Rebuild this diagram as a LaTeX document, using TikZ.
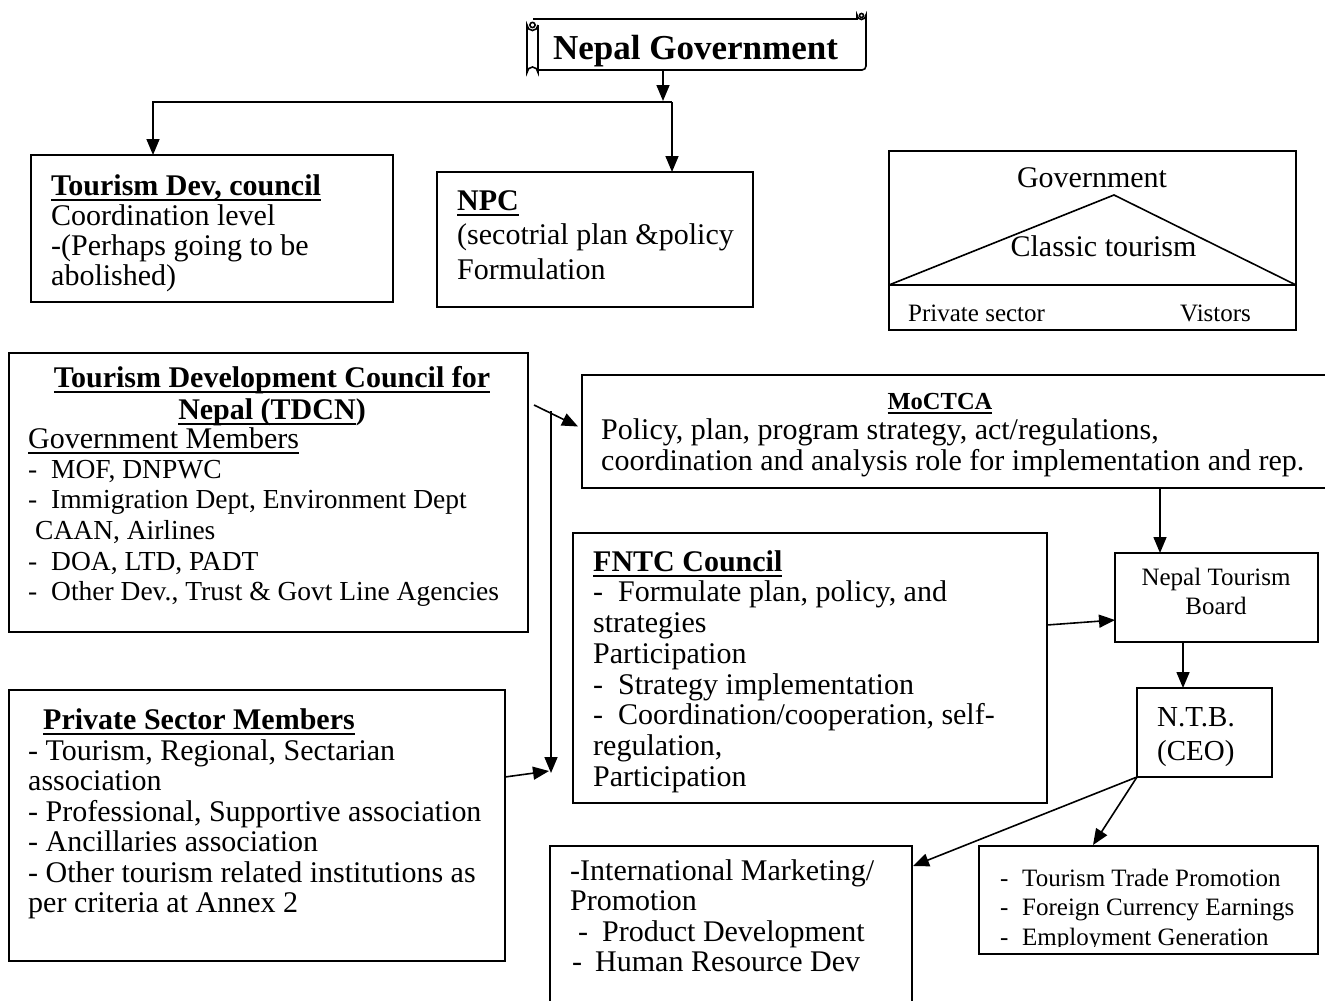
\documentclass[tikz,border=0pt]{standalone}
\usepackage{fontspec}
\setmainfont{Liberation Serif}
\usetikzlibrary{arrows.meta}
\newsavebox\ulbox
\newcommand\myul[1]{\sbox\ulbox{#1}\rlap{\rule[-0.19em]{\wd\ulbox}{0.08em}}\usebox\ulbox}
\newcommand\fl{\rule{0pt}{0.8em}}
\newcommand\fsz[2]{\fontsize{#1}{#2}\selectfont}
\newcommand\dsh[1]{\makebox[#1][l]{-}}
\begin{document}
\begin{tikzpicture}[x=1pt,y=-1pt,
 box/.style={draw, line width=1.8pt, inner sep=0, outer sep=0},
 arr/.style={line width=1.6pt, -{Triangle[length=16pt,width=13pt]}},
 ln/.style={line width=1.6pt},
 txt/.style={inner sep=0, anchor=north west, align=left},
 ctxt/.style={inner sep=0, anchor=north, align=center}]
\useasboundingbox (0,0) rectangle (1325,1001);

% ---------- scroll ----------
\node[inner sep=0, outer sep=0, minimum width=329, minimum height=50] (ng) at (701.5,45) {};
\draw[ln] (533,19) -- (857,19) -- (857,15) arc(180:0:4.5) -- (866,66) arc(0:90:4) -- (538,70);
\draw[ln] (861.5,15.5) circle (2);
\draw[ln] (538,25) -- (538,72.5) arc(0:-180:5.5) -- (527,25) arc(180:0:5.5);
\draw[ln] (532.5,25) circle (2.6);
\node[ctxt, font=\fsz{35}{35}\bfseries] (ngt) at (695.5,31) {\fl Nepal Government};

% ---------- boxes ----------
\node[box, minimum width=362, minimum height=147] (tdc) at (212,228.5) {};
\node[box, minimum width=316, minimum height=135] (npc) at (595,239.5) {};
\node[box, minimum width=407, minimum height=179] (gov) at (1092.5,240.5) {};
\node[box, minimum width=519, minimum height=279] (tdcn) at (268.5,492.5) {};
\node[box, minimum width=496, minimum height=271] (psm) at (257,825.5) {};
\node[box, minimum width=758, minimum height=113] (moc) at (961,431.5) {};
\node[box, minimum width=474, minimum height=270] (fntc) at (810,668) {};
\node[box, minimum width=203, minimum height=89] (ntb) at (1216.5,597.5) {};
\node[box, minimum width=135, minimum height=89] (ceo) at (1204.5,732.5) {};
\node[box, minimum width=362, minimum height=164] (bm) at (731,928) {};
\node[box, minimum width=339, minimum height=108] (br) at (1148.5,900) {};

% ---------- government triangle ----------
\coordinate (apex) at (1114,195);
\coordinate (bl) at (889,285);
\coordinate (brr) at (1296,285);
\draw[line width=1.6pt] (gov.west |- bl) -- (gov.east |- brr);
\draw[line width=1.6pt] (gov.west |- bl) -- (apex) -- (gov.east |- brr);

% ---------- texts ----------
\node[txt, font=\fsz{30}{30}] (tdct) at (51,171) {\fl\myul{\textbf{Tourism Dev, council}}\\Coordination level\\-(Perhaps going to be\\abolished)};
\node[txt, font=\fsz{30}{34.5}] (npct) at (457,186) {\fl\myul{\textbf{NPC}}\\(secotrial plan \&policy\\Formulation};
\node[ctxt, font=\fsz{30}{30}] (govt) at (1092,163) {\fl Government};
\node[ctxt, font=\fsz{30}{30}] (clt) at (1103.5,232) {\fl Classic tourism};
\node[txt, font=\fsz{25}{25}] (pst) at (908,301) {\fl Private sector};
\node[txt, font=\fsz{25}{25}] (vis) at (1180,301) {\fl Vistors};

\node[ctxt, font=\fsz{30}{32}\bfseries] (tdcnt) at (272,363) {\fl\myul{Tourism Development Council for}\\\myul{Nepal (TDCN})};
\node[txt, font=\fsz{30}{30}] (gm) at (28,424) {\fl\myul{Government Members}};
\node[txt, font=\fsz{27.5}{30.6}] (gml) at (28,456) {\fl\dsh{23pt}MOF, DNPWC\\\dsh{23pt}Immigration Dept, Environment Dept\\\hspace*{7pt}CAAN, Airlines\\\dsh{23pt}DOA, LTD, PADT\\\dsh{23pt}Other Dev., Trust \& Govt Line Agencies};

\node[txt, font=\fsz{30}{30.5}] (psmt) at (43,705) {\fl\myul{\textbf{Private Sector Members}}};
\node[txt, font=\fsz{30}{30.5}] (psml) at (28,736) {\fl- Tourism, Regional, Sectarian\\association\\- Professional, Supportive association\\- Ancillaries association\\- Other tourism related institutions as\\per criteria at Annex 2};

\node[ctxt, font=\fsz{24.5}{24.5}\bfseries] (moct) at (940,389.4) {\fl\myul{MoCTCA}};
\node[txt, font=\fsz{30}{31}] (mocl) at (601,415) {\fl Policy, plan, program strategy, act/regulations,\\coordination and analysis role for implementation and rep.};

\node[txt, font=\fsz{30}{30.7}] (fntct) at (593,547) {\fl\myul{\textbf{FNTC Council}}\\\dsh{25pt}Formulate plan, policy, and\\strategies\\Participation\\\dsh{25pt}Strategy implementation\\\dsh{25pt}Coordination/cooperation, self-\\regulation,\\Participation};

\node[ctxt, font=\fsz{25}{29}] (ntbt) at (1216,565) {\fl Nepal Tourism\\Board};
\node[txt, font=\fsz{29}{34}] (ceot) at (1157,702.8) {\fl N.T.B.\\(CEO)};
\node[txt, font=\fsz{30}{30.5}] (bmt) at (570,856) {\fl-International Marketing/\\Promotion\\\hspace*{8pt}\dsh{24pt}Product Development\\\hspace*{2pt}\dsh{23pt}Human Resource Dev};
\begin{scope}
\clip (979,846) rectangle (1318,946);
\node[txt, font=\fsz{25}{29.5}] (brt) at (1000,866) {\fl\dsh{22pt}Tourism Trade Promotion\\\dsh{22pt}Foreign Currency Earnings\\\dsh{22pt}Employment Generation};
\end{scope}

% ---------- connectors ----------
\coordinate (split) at (663,101);
\coordinate (hub) at (672,102);
\draw[arr] (ng.south -| split) -- (split);
\draw[arr] (hub) -| ([shift={(-59,0)}]tdc.north);
\draw[arr] (hub) -- (hub |- npc.north);

\draw[arr] ([shift={(6,52)}]tdcn.north east) -- ([shift={(-4,-5)}]moc.west);
\coordinate (vtop) at (551,411);
\coordinate (meet) at (551,773);
\draw[arr] (vtop) -- (meet);
\draw[arr] ([shift={(0,-48.5)}]psm.east) -- ([shift={(-2,-2)}]meet);

\draw[arr] ([shift={(-56.5,0)}]ntb.north |- moc.south) -- ([shift={(-56.5,0)}]ntb.north);
\draw[arr] ([shift={(0,-43)}]fntc.east) -- ([shift={(0,22.5)}]ntb.west);
\draw[arr] ([shift={(-33.5,0)}]ntb.south) -- ([shift={(-21.5,0)}]ceo.north);
\draw[arr] (ceo.south west) -- ([shift={(1,20)}]bm.north east);
\draw[arr] (ceo.south west) -- ([shift={(-55.5,-1)}]br.north);
\end{tikzpicture}
\end{document}
